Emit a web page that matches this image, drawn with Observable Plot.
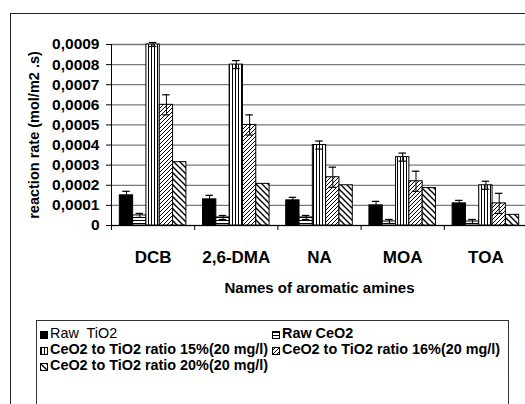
<!DOCTYPE html>
<html>
<head>
<meta charset="utf-8">
<script src="https://cdn.jsdelivr.net/npm/d3@7"></script>
<script src="https://cdn.jsdelivr.net/npm/@observablehq/plot@0.6"></script>
<style>
  html, body { margin: 0; padding: 0; width: 525px; height: 404px; overflow: hidden; background: #fff; font-family: "Liberation Sans", Arial, sans-serif; }
  #frame { position: absolute; left: 10px; top: 13px; width: 600px; height: 500px; border: 1px solid #222; z-index: 5; pointer-events: none; }
  #chart { position: absolute; left: 0; top: 0; }
  #legend { position: absolute; left: 36px; top: 320px; width: 473px; height: 120px; border: 1px solid #333; box-sizing: border-box; }
  .li { position: absolute; font-size: 14.4px; font-weight: bold; color: #000; white-space: pre; line-height: 16px; }
  .li svg { vertical-align: -1px; margin-right: 2px; }
</style>
</head>
<body>
<svg width="0" height="0" style="position:absolute">
  <defs>
    <pattern id="p-h" patternUnits="userSpaceOnUse" width="4" height="3">
      <rect width="4" height="3" fill="#fff"/><rect y="1" width="4" height="1" fill="#000"/>
    </pattern>
    <pattern id="p-v" patternUnits="userSpaceOnUse" width="3" height="4">
      <rect width="3" height="4" fill="#fff"/><rect x="1" width="1" height="4" fill="#000"/>
    </pattern>
    <pattern id="p-f" patternUnits="userSpaceOnUse" width="4" height="4">
      <rect width="4" height="4" fill="#fff"/><path d="M-1,1 l2,-2 M0,4 l4,-4 M3,5 l2,-2" stroke="#000" stroke-width="1"/>
    </pattern>
    <pattern id="p-b" patternUnits="userSpaceOnUse" width="6" height="6">
      <rect width="6" height="6" fill="#fff"/><path d="M-1,5 l2,2 M0,0 l6,6 M5,-1 l2,2" stroke="#000" stroke-width="1.4"/>
    </pattern>
  </defs>
</svg>
<div id="frame"></div>
<div id="chart"></div>
<div id="legend"></div>
<script>
// ---- data ----
const categories = ["DCB", "2,6-DMA", "NA", "MOA", "TOA"];
const seriesNames = [
  "Raw  TiO2",
  "Raw CeO2",
  "CeO2 to TiO2 ratio 15%(20 mg/l)",
  "CeO2 to TiO2 ratio 16%(20 mg/l)",
  "CeO2 to TiO2 ratio 20%(20 mg/l)"
];
const rawTiO2   = [0.00015, 0.00013, 0.000125, 0.0001, 0.00011];
const rawCeO2   = [0.00005, 0.00004, 0.00004, 0.00002, 0.00002];
const ratio15   = [0.0009, 0.0008, 0.0004, 0.00034, 0.0002];
const ratio16   = [0.0006, 0.0005, 0.00024, 0.00022, 0.00011];
const ratio20   = [0.000315, 0.000207, 0.0002, 0.000186, 0.000053];
const errTiO2   = [0.00002, 0.00002, 0.000015, 0.00002, 0.000015];
const errCeO2   = [0.00001, 0.00001, 0.00001, 0.00001, 0.00001];
const err15     = [0.00001, 0.00002, 0.00002, 0.00002, 0.00002];
const err16     = [0.00005, 0.00005, 0.00005, 0.00005, 0.00005];
const err20     = [0, 0, 0, 0, 0];
const yTicks = [0, 0.0001, 0.0002, 0.0003, 0.0004, 0.0005, 0.0006, 0.0007, 0.0008, 0.0009];

const fills = ["#000", "url(#p-h)", "url(#p-v)", "url(#p-f)", "url(#p-b)"];
const values = [rawTiO2, rawCeO2, ratio15, ratio16, ratio20];
const errors = [errTiO2, errCeO2, err15, err16, err20];

const rows = [];
categories.forEach((c, ci) => values.forEach((vals, si) => {
  rows.push({cat: c, ci, si, value: vals[ci], err: errors[si][ci]});
}));

const pad = 0.1, bw = 0.16;
const x1 = d => d.ci + pad + d.si * bw;
const x2 = d => d.ci + pad + (d.si + 1) * bw;
const xc = d => d.ci + pad + (d.si + 0.5) * bw;
const errRows = rows.filter(d => d.err > 0);

const fmt = d => d === 0 ? "0" : d.toFixed(4).replace(".", ",");

const chart = Plot.plot({
  width: 530,
  height: 305,
  marginLeft: 111,
  marginRight: 3,
  marginTop: 44,
  marginBottom: 80,
  style: {background: "transparent", maxWidth: "none", fontFamily: "'Liberation Sans', Arial, sans-serif", color: "#000"},
  x: {domain: [0, categories.length]},
  y: {domain: [0, 0.0009]},
  marks: [
    Plot.gridY(yTicks, {stroke: "#7a7a7a", strokeOpacity: 1, strokeWidth: 1.3}),
    ...values.map((_, si) => Plot.rectY(rows.filter(d => d.si === si), {
      x1, x2, y: "value", fill: fills[si], stroke: "#000", strokeWidth: 1
    })),
    Plot.ruleX(errRows, {x: xc, y1: d => d.value - d.err, y2: d => d.value + d.err, stroke: "#000", strokeWidth: 1}),
    Plot.ruleY(errRows, {y: d => d.value + d.err, x1: d => xc(d) - 0.045, x2: d => xc(d) + 0.045, stroke: "#000", strokeWidth: 1.2}),
    Plot.ruleY(errRows, {y: d => d.value - d.err, x1: d => xc(d) - 0.045, x2: d => xc(d) + 0.045, stroke: "#000", strokeWidth: 1.2}),
    Plot.ruleX([0], {stroke: "#000", strokeWidth: 1}),
    Plot.ruleY([0], {stroke: "#000", strokeWidth: 1}),
    Plot.axisY({ticks: yTicks, tickFormat: fmt, tickSize: 5, tickPadding: 7, fontSize: 15.5, fontWeight: "bold", letterSpacing: "0.4px", label: null}),
    Plot.axisX({ticks: d3.range(0, categories.length + 1), tickFormat: () => "", tickSize: 5, label: null}),
    Plot.axisX({ticks: categories.map((c, i) => i + 0.5), tickFormat: d => categories[Math.floor(d)], tickSize: 0, tickPadding: 25, fontSize: 17, fontWeight: "bold", label: null}),
    Plot.text(["Names of aromatic amines"], {frameAnchor: "bottom", dy: 63, fontSize: 15, fontWeight: "bold", letterSpacing: "-0.2px", lineAnchor: "middle"}),
    Plot.text(["reaction rate (mol/m2 .s)"], {frameAnchor: "left", dx: -77, rotate: -90, textAnchor: "middle", fontSize: 14.5, fontWeight: "bold", letterSpacing: "1.2px", lineAnchor: "middle"})
  ]
});
document.getElementById("chart").appendChild(chart);

// ---- legend ----
const legendPos = [
  {left: 40, top: 325, weight: "normal"},
  {left: 272, top: 325, weight: "bold"},
  {left: 40, top: 341, weight: "bold"},
  {left: 272, top: 341, weight: "bold"},
  {left: 40, top: 357, weight: "bold"}
];
seriesNames.forEach((name, i) => {
  const el = document.createElement("div");
  el.className = "li";
  el.style.left = legendPos[i].left + "px";
  el.style.top = legendPos[i].top + "px";
  el.style.fontWeight = legendPos[i].weight;
  el.innerHTML = `<svg width="8" height="8"><rect x="0.5" y="0.5" width="7" height="7" fill="${fills[i]}" stroke="#000"/></svg>` + name;
  document.getElementById("legend").parentNode.appendChild(el);
});
</script>
</body>
</html>
